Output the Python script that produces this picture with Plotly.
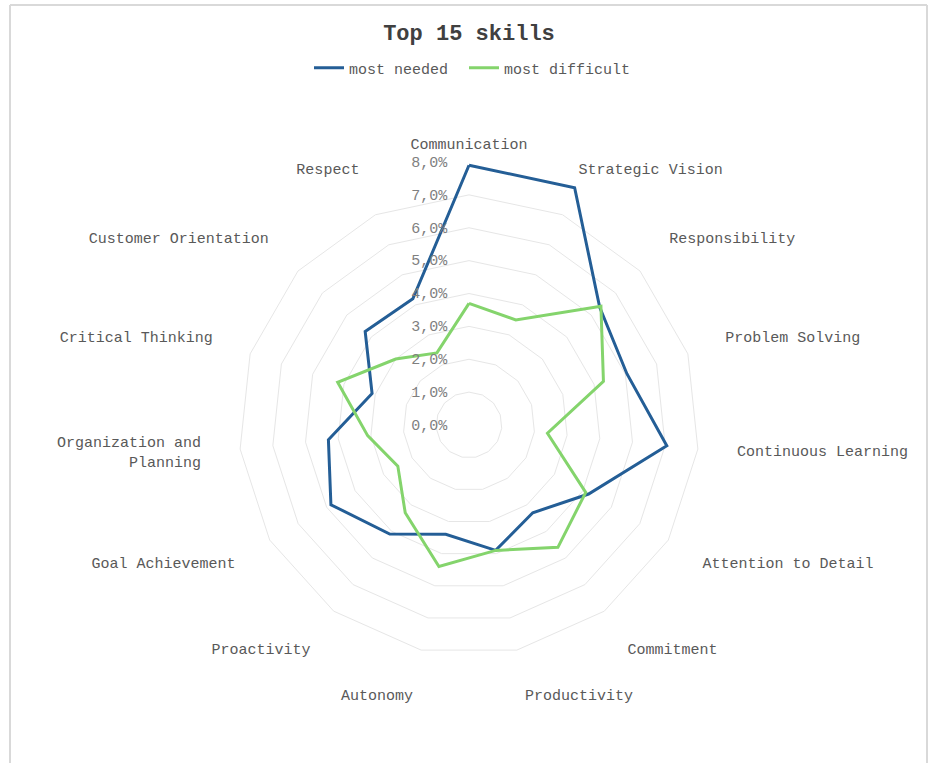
import plotly.graph_objects as go

categories = ["Communication", "Strategic Vision", "Responsibility", "Problem Solving",
              "Continuous Learning", "Attention to Detail", "Commitment", "Productivity",
              "Autonomy", "Proactivity", "Goal Achievement", "Organization and<br>Planning",
              "Critical Thinking", "Customer Orientation", "Respect"]
most_needed = [7.9, 7.9, 5.35, 5.05, 6.05, 4.2, 3.3, 3.9, 3.4, 4.1, 4.85, 4.3, 3.1, 4.25, 4.2]
most_difficult = [3.7, 3.5, 5.4, 4.3, 2.4, 4.1, 4.6, 3.9, 4.4, 3.3, 2.5, 3.1, 4.2, 3.0, 2.4]
radial_ticks = [0, 1, 2, 3, 4, 5, 6, 7, 8]
radial_tick_labels = ["0,0%", "1,0%", "2,0%", "3,0%", "4,0%", "5,0%", "6,0%", "7,0%", "8,0%"]

W, H = 933, 763
FONT = "Liberation Mono, Courier New, monospace"
BLUE = "#245E96"
GREEN = "#84D46C"

fig = go.Figure()
fig.add_trace(go.Scatterpolar(r=most_needed + most_needed[:1], theta=categories + categories[:1],
                              mode="lines", name="most needed", legend="legend",
                              line=dict(color=BLUE, width=3)))
fig.add_trace(go.Scatterpolar(r=most_difficult + most_difficult[:1], theta=categories + categories[:1],
                              mode="lines", name="most difficult", legend="legend2",
                              line=dict(color=GREEN, width=3)))
# invisible trace that only carries the category labels on a second (label) polar
fig.add_trace(go.Scatterpolar(r=[0] * len(categories), theta=categories, mode="lines",
                              line=dict(color="rgba(0,0,0,0)"), showlegend=False,
                              hoverinfo="skip", subplot="polar2"))

cx, cy, R = 469, 425, 263
label_lift = 4
dom = dict(x=[(cx - R) / W, (cx + R) / W], y=[(H - cy - R) / H, (H - cy + R) / H])
dom2 = dict(x=dom["x"], y=[(H - cy - R + label_lift) / H, (H - cy + R + label_lift) / H])

legend_style = dict(orientation="h", xanchor="left", y=1 - 68 / H, yanchor="middle",
                    font=dict(family=FONT, size=15, color="#595959"), itemwidth=30,
                    bgcolor="rgba(0,0,0,0)")

fig.update_layout(
    width=W, height=H,
    margin=dict(l=0, r=0, t=0, b=0),
    paper_bgcolor="white",
    font=dict(family=FONT, size=15, color="#595959"),
    title=dict(text="<b>Top 15 skills</b>", x=cx / W, xanchor="center",
               y=1 - 32 / H, yanchor="middle",
               font=dict(family=FONT, size=22, color="#404040")),
    legend=dict(x=(315 - 6) / W, **legend_style),
    legend2=dict(x=(470 - 6) / W, **legend_style),
    polar2=dict(
        domain=dom2,
        gridshape="linear",
        bgcolor="rgba(0,0,0,0)",
        angularaxis=dict(direction="clockwise", rotation=90, showgrid=False,
                         showline=False, ticks="outside", ticklen=3, tickcolor="rgba(0,0,0,0)",
                         tickfont=dict(family=FONT, size=15, color="#595959")),
        radialaxis=dict(range=[0, 8], visible=False),
    ),
    polar=dict(
        domain=dom,
        gridshape="linear",
        bgcolor="rgba(0,0,0,0)",
        angularaxis=dict(direction="clockwise", rotation=90, showgrid=False,
                         showline=False, ticks="", showticklabels=False),
        radialaxis=dict(range=[0, 8], tickvals=radial_ticks, ticktext=radial_tick_labels,
                        angle=90, tickangle=90, side="counterclockwise", showline=False,
                        ticks="outside", ticklen=16, tickcolor="rgba(0,0,0,0)",
                        gridcolor="#e6e6e6", gridwidth=1.3,
                        tickfont=dict(family=FONT, size=15, color="#7f7f7f")),
    ),
    shapes=[
        dict(type="line", xref="paper", yref="paper", x0=10 / W, x1=10 / W, y0=0, y1=1 - 5 / H,
             line=dict(color="#d9d9d9", width=2)),
        dict(type="line", xref="paper", yref="paper", x0=10 / W, x1=927 / W, y0=1 - 5 / H, y1=1 - 5 / H,
             line=dict(color="#d9d9d9", width=2)),
        dict(type="line", xref="paper", yref="paper", x0=927 / W, x1=927 / W, y0=0, y1=1 - 5 / H,
             line=dict(color="#d9d9d9", width=2)),
    ],
)

fig.write_html("out.html", config={"displayModeBar": False},
               post_script="document.body.style.margin='0';")
